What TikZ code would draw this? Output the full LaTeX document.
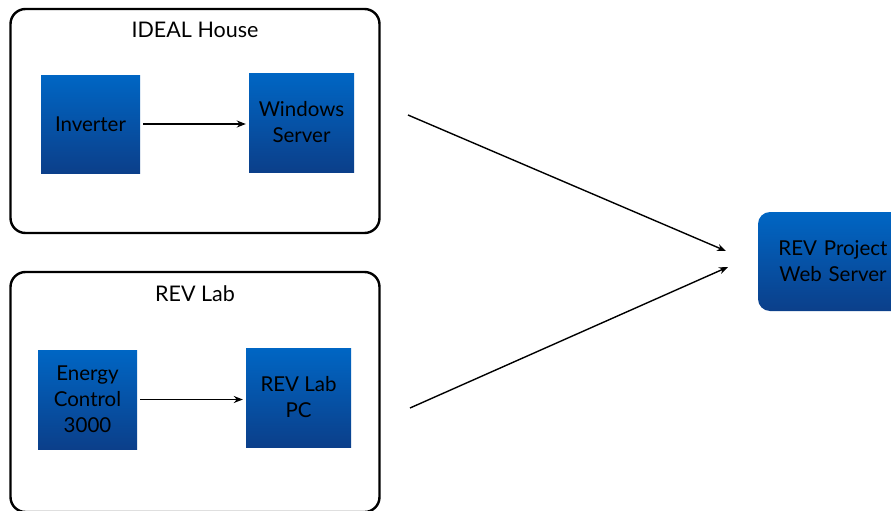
\documentclass[tikz,border=0pt]{standalone}
\usepackage{fontspec}
\setmainfont{Lato}
\usetikzlibrary{arrows.meta}
\definecolor{btop}{HTML}{0066C4}
\definecolor{bbot}{HTML}{0B3F8A}
\tikzset{
  container/.style={draw=black, line width=2.4pt, rounded corners=15pt, fill=white},
  device/.style={top color=btop, bottom color=bbot, draw=none, inner sep=0pt, align=center, font=\fontsize{20.5}{26}\selectfont, text=black},
  title/.style={font=\fontsize{21.5}{26}\selectfont, text=black},
  link/.style={-{Stealth[length=9pt,width=7pt]}, line width=1.4pt}
}
\begin{document}
\begin{tikzpicture}[x=1pt,y=-1pt]
\useasboundingbox (0,0) rectangle (891,511);
\node[container, minimum width=369pt, minimum height=224pt] (ideal) at (195,121) {};
\node[container, minimum width=369pt, minimum height=240pt] (revlab) at (195,392) {};
\node[title] (idealt) at (195,30) {IDEAL House};
\node[title] (revlabt) at (195,294) {REV Lab};
\node[device, minimum width=99pt, minimum height=98pt] (inv) at (90.5,124) {Inverter};
\node[device, minimum width=105pt, minimum height=99pt] (win) at (301.5,122.5) {Windows\\Server};
\node[device, minimum width=99pt, minimum height=99pt] (ec) at (87.5,399.5) {Energy\\Control\\3000};
\node[device, minimum width=105pt, minimum height=99pt] (pc) at (298.5,397.5) {REV Lab\\PC};
\node[device, rounded corners=12pt, minimum width=150pt, minimum height=99pt, text width=140pt] (web) at (833,261.5) {REV Project\\Web Server};
\coordinate (s1) at (408,115);
\coordinate (e1) at (726,251);
\coordinate (s2) at (410,408);
\coordinate (e2) at (728,267);
\draw[link] (inv.east) ++(3pt,0) -- ([xshift=-3pt]win.west |- inv.east);
\draw[link] (ec.east) ++(3pt,0) -- ([xshift=-3pt]pc.west |- ec.east);
\draw[link] (s1) -- (e1);
\draw[link] (s2) -- (e2);
\end{tikzpicture}
\end{document}
